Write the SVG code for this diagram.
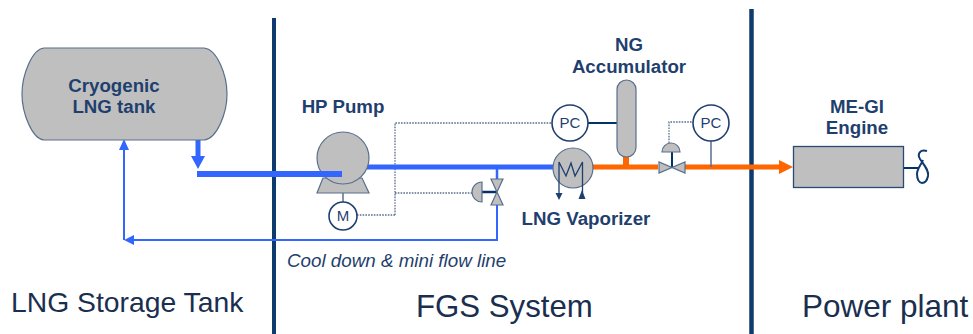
<svg xmlns="http://www.w3.org/2000/svg" width="973" height="334" viewBox="0 0 973 334">
<style>
.g{fill:#bfbfbf;stroke:#5a6f8c;stroke-width:1.2}
.w{fill:#fff;stroke:#1f3f6e;stroke-width:1.6}
.l{font-family:"Liberation Sans",Arial,sans-serif;font-weight:bold;font-size:18.700px;fill:#1f3f6e;text-anchor:middle}
.t{font-family:"Liberation Sans",Arial,sans-serif;font-size:15px;fill:#1f3f6e;text-anchor:middle}
.b{font-family:"Liberation Sans",Arial,sans-serif;fill:#1a2f4f}
.d{fill:none;stroke:#5a6f8c;stroke-width:1.3;stroke-dasharray:1.6 1.2}
.n{fill:none;stroke:#003366;stroke-width:2}
.bl{fill:none;stroke:#3366ff}
.or{fill:none;stroke:#ff6600}
</style>
<g id="dividers">
<path d="M274,18V334" fill="none" stroke="#0f3a6e" stroke-width="4"/>
<path d="M751.500,9V334" fill="none" stroke="#0f3a6e" stroke-width="4.500"/>
</g>
<g id="connectors">
<path class="d" d="M395,215V123H553M395,193H473M357,215H395M669,143V122H693"/>
<path class="bl" stroke-width="6" d="M197,174H342"/>
<path class="bl" stroke-width="5" d="M198,140V156"/>
<path d="M191,156H205L198,169Z" fill="#3366ff"/>
<path class="bl" stroke-width="5" d="M367,167H555"/>
<path class="bl" stroke-width="2.500" d="M497,167V180"/>
<path class="bl" stroke-width="2" d="M497,205V240H126M124,240V142"/>
<path d="M124,139L129,150H119Z M124,240L134,235V245Z" fill="#3366ff"/>
<path class="or" stroke-width="5" d="M592,167H658M685,167H750"/>
<path class="or" stroke-width="5" d="M750,167H783"/>
<path d="M779,160L793,167L779,174Z" fill="#ff6600"/>
<path class="or" stroke-width="6" d="M626,155V167"/>
<path class="n" d="M588,123H618"/>
<path d="M711,141V167" fill="none" stroke="#5a6f8c" stroke-width="1.500"/>
<path d="M343,193V202" fill="none" stroke="#5a6f8c" stroke-width="1.500"/>
<path d="M482,192H497" fill="none" stroke="#003366" stroke-width="2.500"/>
<path d="M672,152V167" fill="none" stroke="#003366" stroke-width="2"/>
<path class="n" d="M903,168H918"/>
</g>
<g id="tank">
<path class="g" d="M44,48H204C217,49 227,75 227,94C227,113 217,139 204,140H44C32,139 22,113 22,94C22,75 32,49 44,48Z"/>
<text class="l" x="114" y="92">Cryogenic</text>
<text class="l" x="114" y="113">LNG tank</text>
</g>
<g id="pump">
<path class="g" d="M323,178L317,193H369L362,178Z"/>
<circle class="g" cx="343" cy="158" r="26"/>
<path class="bl" stroke-width="6" d="M320,174H342"/>
<text class="l" x="343" y="113">HP Pump</text>
</g>
<g id="motor">
<circle class="w" cx="343" cy="216" r="14"/>
<text class="t" x="343" y="221">M</text>
</g>
<g id="bypass-valve">
<path class="g" d="M491,179H503L491,205H503Z"/>
<path class="g" d="M482,182A10,10 0 0 0 482,202Z"/>
</g>
<g id="pc1">
<circle class="w" cx="570" cy="123" r="18"/>
<text class="t" x="570" y="128">PC</text>
</g>
<g id="accumulator">
<rect class="g" x="617" y="80" width="19" height="77" rx="9.500"/>
<text class="l" x="629" y="51">NG</text>
<text class="l" x="629" y="73">Accumulator</text>
</g>
<g id="vaporizer">
<circle class="g" cx="573" cy="168" r="20"/>
<path d="M559,194V162L566,176L571,163L575,176L582.500,162V194" fill="none" stroke="#1f3f6e" stroke-width="1.300"/>
<path d="M555.500,193L559,200L562.500,193Z M582,190L578.500,199H585.500Z" fill="#1f3f6e"/>
<text class="l" x="586" y="225">LNG Vaporizer</text>
</g>
<g id="control-valve">
<path class="g" d="M659,162V173L685,162V173Z"/>
<path class="g" d="M662,152A9,9 0 0 1 680,152Z"/>
</g>
<g id="pc2">
<circle class="w" cx="711" cy="123" r="18"/>
<text class="t" x="711" y="128">PC</text>
</g>
<g id="engine">
<rect x="793.500" y="146.500" width="110" height="41" fill="#bfbfbf" stroke="#2a4a75" stroke-width="1.300"/>
<text class="l" x="857" y="113">ME-GI</text>
<text class="l" x="857" y="134">Engine</text>
<path d="M927,151C920,149 917,154 920,159C924,165 929,170 928,176C927,181 925,183 922,183C919,183 917,179 917,174C917,169 921,165 923,160" fill="none" stroke="#0f3a6e" stroke-width="2"/>
</g>
<g id="labels">
<text x="287" y="267" font-family="Liberation Sans, Arial, sans-serif" font-style="italic" font-size="18.800" fill="#1f3f6e">Cool down &amp; mini flow line</text>
<text class="b" x="11" y="312" font-size="28.300">LNG Storage Tank</text>
<text class="b" x="416" y="317" font-size="31.200">FGS System</text>
<text class="b" x="802" y="317" font-size="31.500">Power plant</text>
</g>
</svg>
